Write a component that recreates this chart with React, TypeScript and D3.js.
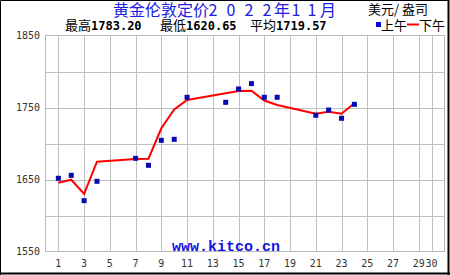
import React from "react";
import * as d3 from "d3";

const amDays = [1, 2, 3, 4, 7, 8, 9, 10, 11, 14, 15, 16, 17, 18, 21, 22, 23, 24];
const amValues = [1651.7, 1655.8, 1620.65, 1647.5, 1679.4, 1669.7, 1704.4, 1705.8, 1764.2, 1757.2, 1775.7, 1783.2, 1764.2, 1764.2, 1739.2, 1746.5, 1735.0, 1754.4];
const pmDays = [1, 2, 3, 4, 7, 8, 9, 10, 11, 14, 15, 16, 17, 18, 21, 22, 23, 24];
const pmValues = [1645.6, 1649.7, 1629.9, 1674.7, 1678.5, 1678.9, 1721.1, 1747.2, 1760.4, 1769.7, 1772.9, 1773.3, 1759.7, 1753.5, 1741.4, 1744.2, 1741.4, 1755.8];
const xTickDays = [1, 3, 5, 7, 9, 11, 13, 15, 17, 19, 21, 23, 25, 27, 29, 30];
const yGridValues = [1600, 1650, 1700, 1750, 1800];
const yLabelValues = [1850, 1750, 1650, 1550];
// title pieces: text with its left x
const titlePieces = [
  { t: "黄金伦敦定价", x: 113 },
  { t: "2", x: 208.5 },
  { t: "0", x: 226.5 },
  { t: "2", x: 244.5 },
  { t: "2", x: 262.5 },
  { t: "年", x: 274 },
  { t: "1", x: 291.5 },
  { t: "1", x: 307.5 },
  { t: "月", x: 320 },
];
const unitText = "美元/ 盎司";
const stats = [
  { label: "最高", value: "1783.20", x: 65 },
  { label: "最低", value: "1620.65", x: 160 },
  { label: "平均", value: "1719.57", x: 250 },
];
const legendAm = "上午";
const legendPm = "下午";
const siteText = "www.kitco.cn";

const W = 450;
const H = 275;
const L = 45.5, R = 444.5, T = 35.5, B = 251.5;

export default function App() {
  const x = d3.scaleLinear().domain([0, 31]).range([L, R]);
  const y = d3.scaleLinear().domain([1550, 1850]).range([B, T]);
  const pmLine = d3
    .line<number>()
    .x((_, i) => x(pmDays[i]))
    .y((v) => y(v))(pmValues) || "";
  const cjk = "'Noto Sans CJK SC', sans-serif";
  const mono = "'DejaVu Sans Mono', monospace";
  return (
    <svg
      width={W}
      height={H}
      style={{ position: "absolute", left: 0, top: 0, display: "block", background: "#fff" }}
    >
      <rect x={0} y={0} width={W} height={H} fill="#fff" />
      {/* grid */}
      {yGridValues.map((v) => (
        <line key={"h" + v} x1={L} x2={R} y1={Math.round(y(v)) + 0.5} y2={Math.round(y(v)) + 0.5} stroke="#c0c0c0" strokeWidth={1} />
      ))}
      {xTickDays.map((d) => (
        <line key={"v" + d} x1={Math.round(x(d)) + 0.5} x2={Math.round(x(d)) + 0.5} y1={T} y2={B} stroke="#c0c0c0" strokeWidth={1} />
      ))}
      <rect x={L} y={T} width={R - L} height={B - T} fill="none" stroke="#b8b8b8" strokeWidth={1} />
      {/* y labels */}
      {yLabelValues.map((v) => (
        <text key={"yl" + v} x={40} y={y(v) + 3.5} textAnchor="end" fontFamily={mono} fontSize={10} fill="#333">
          {v}
        </text>
      ))}
      {/* x labels */}
      {xTickDays.map((d) => (
        <text key={"xl" + d} x={x(d)} y={267} textAnchor="middle" fontFamily={mono} fontSize={10} fill="#333">
          {d}
        </text>
      ))}
      {/* site */}
      <text x={172} y={250.5} fontFamily="'Liberation Mono', monospace" fontWeight="bold" fontSize={15} fill="#1414e6">
        {siteText}
      </text>
      {/* PM line */}
      <path d={pmLine} fill="none" stroke="#ff0000" strokeWidth={2} />
      {/* AM squares */}
      {amValues.map((v, i) => (
        <rect key={"am" + i} x={x(amDays[i]) - 2.5} y={y(v) - 2.5} width={5} height={5} fill="#0808b4" />
      ))}
      {/* title */}
      <text y={16} fontFamily={cjk} fontSize={16} fill="#2020e0">
        {titlePieces.map((p, i) => (
          <tspan key={"tp" + i} x={p.x}>{p.t}</tspan>
        ))}
      </text>
      <text x={368} y={14} fontFamily={cjk} fontSize={13} fill="#000" style={{ whiteSpace: "pre" }}>
        {unitText}
      </text>
      {/* stats */}
      {stats.map((s, i) => (
        <text key={"st" + i} x={s.x} y={30} fill="#000">
          <tspan fontFamily={cjk} fontSize={13}>{s.label}</tspan>
          <tspan fontFamily={mono} fontWeight="bold" fontSize={12}>{s.value}</tspan>
        </text>
      ))}
      {/* legend */}
      <rect x={376} y={22} width={5} height={5} fill="#0808e0" />
      <text x={381} y={30} fontFamily={cjk} fontSize={13} fill="#000">{legendAm}</text>
      <line x1={407} x2={419} y1={24.5} y2={24.5} stroke="#ff0000" strokeWidth={2} />
      <text x={419} y={30} fontFamily={cjk} fontSize={13} fill="#000">{legendPm}</text>
      {/* outer border */}
      <path d={`M0.5,${H} V0.5 H${W - 1}`} fill="none" stroke="#000" strokeWidth={1} />
      <line x1={W - 1.5} x2={W - 1.5} y1={0} y2={H} stroke="#000" strokeWidth={2} />
      <line x1={0} x2={W} y1={H - 1.5} y2={H - 1.5} stroke="#000" strokeWidth={2} />
    </svg>
  );
}
